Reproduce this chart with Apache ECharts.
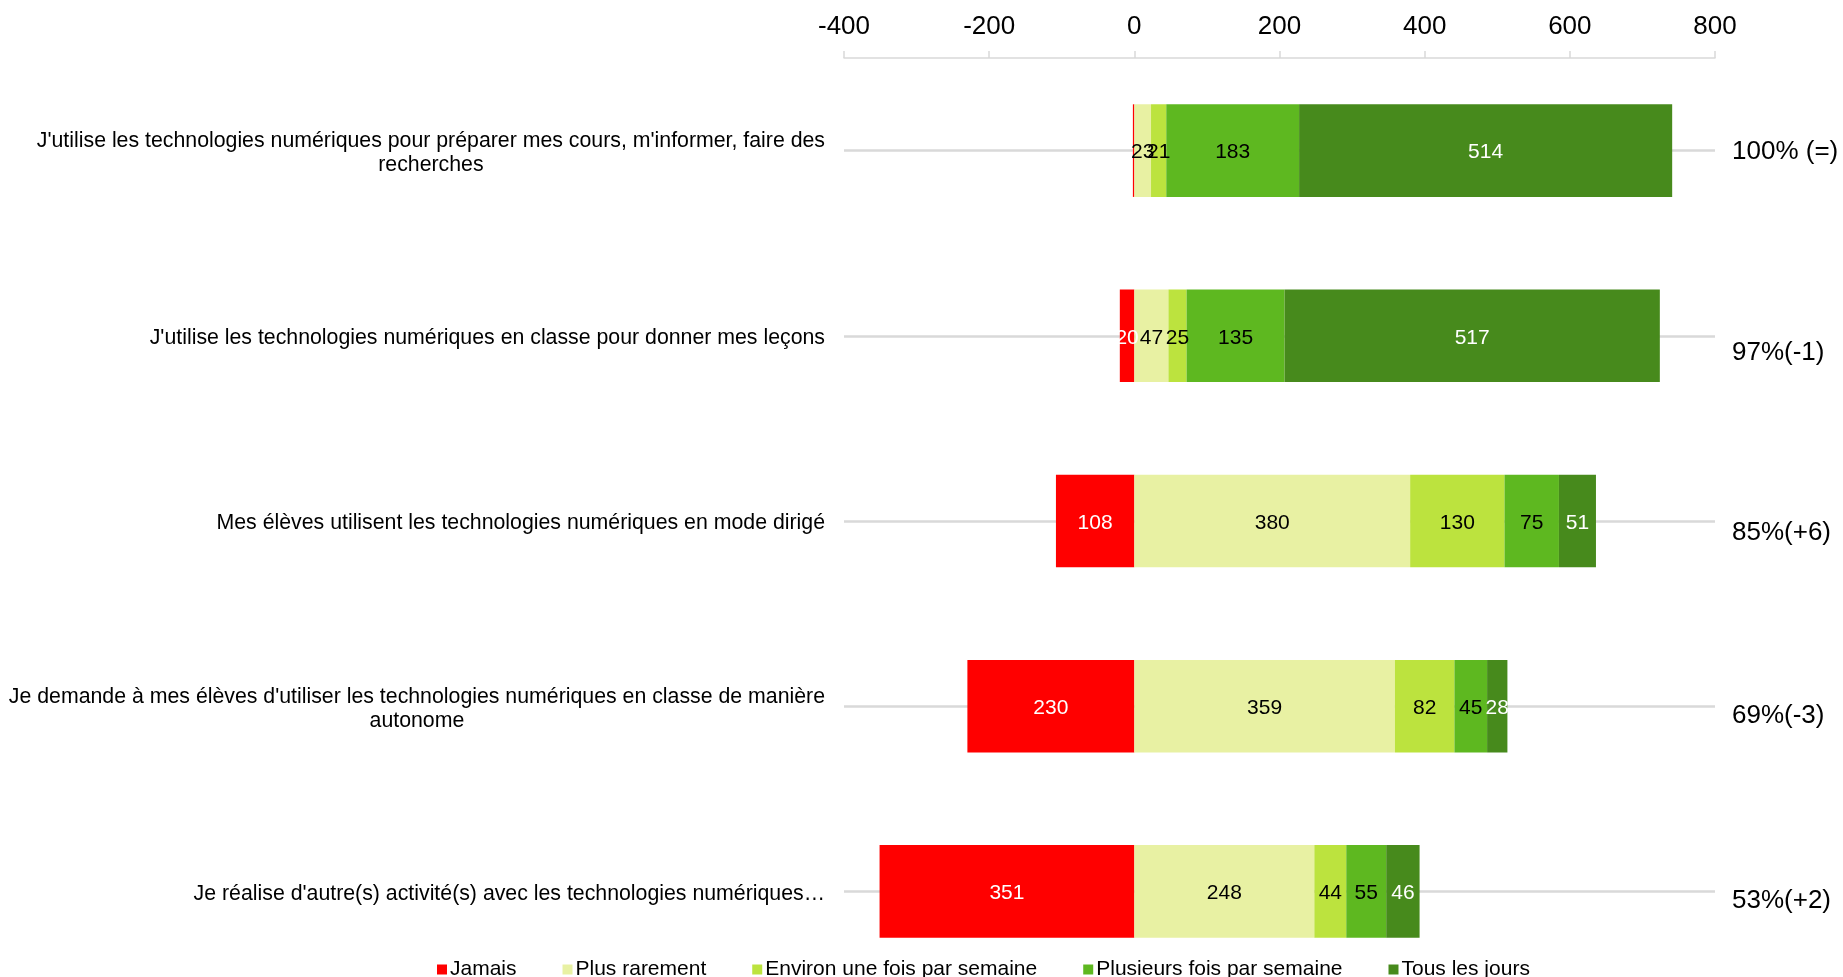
<!DOCTYPE html>
<html>
<head>
<meta charset="utf-8">
<script src="https://cdn.jsdelivr.net/npm/echarts@6/dist/echarts.min.js"></script>
<style>
  html, body { margin: 0; padding: 0; background: #fff; overflow: hidden; }
  /* un peu plus haut que la fenêtre : la dernière bande déborde sous la légende */
  #main { width: 1843px; height: 990px; }
</style>
</head>
<body>
<div id="main"></div>
<script>
// libellés des questions (de haut en bas)
var categories = [
  "J'utilise les technologies numériques pour préparer mes cours, m'informer, faire des\nrecherches",
  "J'utilise les technologies numériques en classe pour donner mes leçons",
  "Mes élèves utilisent les technologies numériques en mode dirigé",
  "Je demande à mes élèves d'utiliser les technologies numériques en classe de manière\nautonome",
  "Je réalise d'autre(s) activité(s) avec les technologies numériques…"
];
var rightLabels = ['100% (=)', '97%(-1)', '85%(+6)', '69%(-3)', '53%(+2)'];

var jamais     = [2, 20, 108, 230, 351];
var rarement   = [23, 47, 380, 359, 248];
var uneFois    = [21, 25, 130, 82, 44];
var plusieurs  = [183, 135, 75, 45, 55];
var tousJours  = [514, 517, 51, 28, 46];

var tickMin = -400, tickMax = 800, tickStep = 200;

var seriesNames = ['Jamais', 'Plus rarement', 'Environ une fois par semaine', 'Plusieurs fois par semaine', 'Tous les jours'];
var colors = ['#FF0000', '#E8F1A3', '#BCE33E', '#5EB820', '#478A1C'];
var labelColors = ['#fff', '#000', '#000', '#000', '#fff'];
// décalage vertical (px) des zones de texte de droite, comme dans l'original
var rightShift = [1, 17, 12, 10, 9];

var FONT = "'Liberation Sans', Arial, sans-serif";

var chart = echarts.init(document.getElementById('main'));

function barSerie(i, values, negative) {
  return {
    name: seriesNames[i],
    type: 'bar',
    stack: 'total',
    barWidth: '50%',
    z: 5,
    itemStyle: { color: colors[i] },
    label: {
      show: true,
      position: 'inside',
      offset: [0, 2],
      color: labelColors[i],
      fontSize: 21,
      fontFamily: FONT,
      formatter: function (p) {
        var v = Math.abs(p.value);
        return v < 5 ? '' : String(v);
      }
    },
    data: negative ? values.map(function (v) { return -v; }) : values
  };
}

var rightRich = {};
rightShift.forEach(function (s, i) {
  rightRich['o' + i] = { fontSize: 26, color: '#000', fontFamily: FONT, padding: [2 * s, 0, 0, 0] };
});

var option = {
  animation: false,
  textStyle: { fontFamily: FONT },
  grid: {
    left: 844,
    right: 128,
    top: 58,
    height: 926,
    containLabel: false
  },
  legend: {
    left: 432,
    top: 954,
    icon: 'rect',
    itemWidth: 10,
    itemHeight: 10,
    itemGap: 46,
    textStyle: { fontSize: 21, color: '#000', fontFamily: FONT, padding: [0, 0, 0, -2] },
    data: seriesNames
  },
  xAxis: {
    type: 'value',
    position: 'top',
    min: tickMin,
    max: tickMax,
    interval: tickStep,
    axisLine: { show: true, lineStyle: { color: '#d9d9d9', width: 1.5 } },
    axisTick: { show: true, length: 7, lineStyle: { color: '#d9d9d9', width: 1.5 } },
    splitLine: { show: false },
    axisLabel: { fontSize: 26, color: '#000', margin: 18, fontFamily: FONT }
  },
  yAxis: [
    {
      type: 'category',
      inverse: true,
      data: categories,
      axisLine: { show: false },
      axisTick: { show: false },
      axisLabel: {
        margin: 19,
        color: '#000',
        fontSize: 21.3,
        lineHeight: 24,
        padding: [5, 0, 0, 0],
        formatter: function (v) {
          return v.split('\n').map(function (l) { return '{c|' + l + '}'; }).join('\n');
        },
        rich: {
          c: { align: 'center', fontSize: 21.3, lineHeight: 24, color: '#000', fontFamily: FONT }
        }
      }
    },
    {
      type: 'category',
      inverse: true,
      position: 'right',
      data: rightLabels,
      axisLine: { show: false },
      axisTick: { show: false },
      axisLabel: {
        margin: 17,
        fontSize: 26,
        color: '#000',
        fontFamily: FONT,
        formatter: function (v, i) { return '{o' + i + '|' + v + '}'; },
        rich: rightRich
      }
    }
  ],
  series: [
    {
      // lignes grises horizontales derrière les barres
      name: 'grille',
      type: 'line',
      data: [],
      z: 1,
      silent: true,
      markLine: {
        silent: true,
        z: 1,
        symbol: ['none', 'none'],
        label: { show: false },
        lineStyle: { color: '#d9d9d9', width: 2.5, type: 'solid' },
        data: categories.map(function (c) { return { yAxis: c }; })
      }
    },
    barSerie(0, jamais, true),
    barSerie(1, rarement),
    barSerie(2, uneFois),
    barSerie(3, plusieurs),
    barSerie(4, tousJours)
  ]
};

chart.setOption(option);
</script>
</body>
</html>
